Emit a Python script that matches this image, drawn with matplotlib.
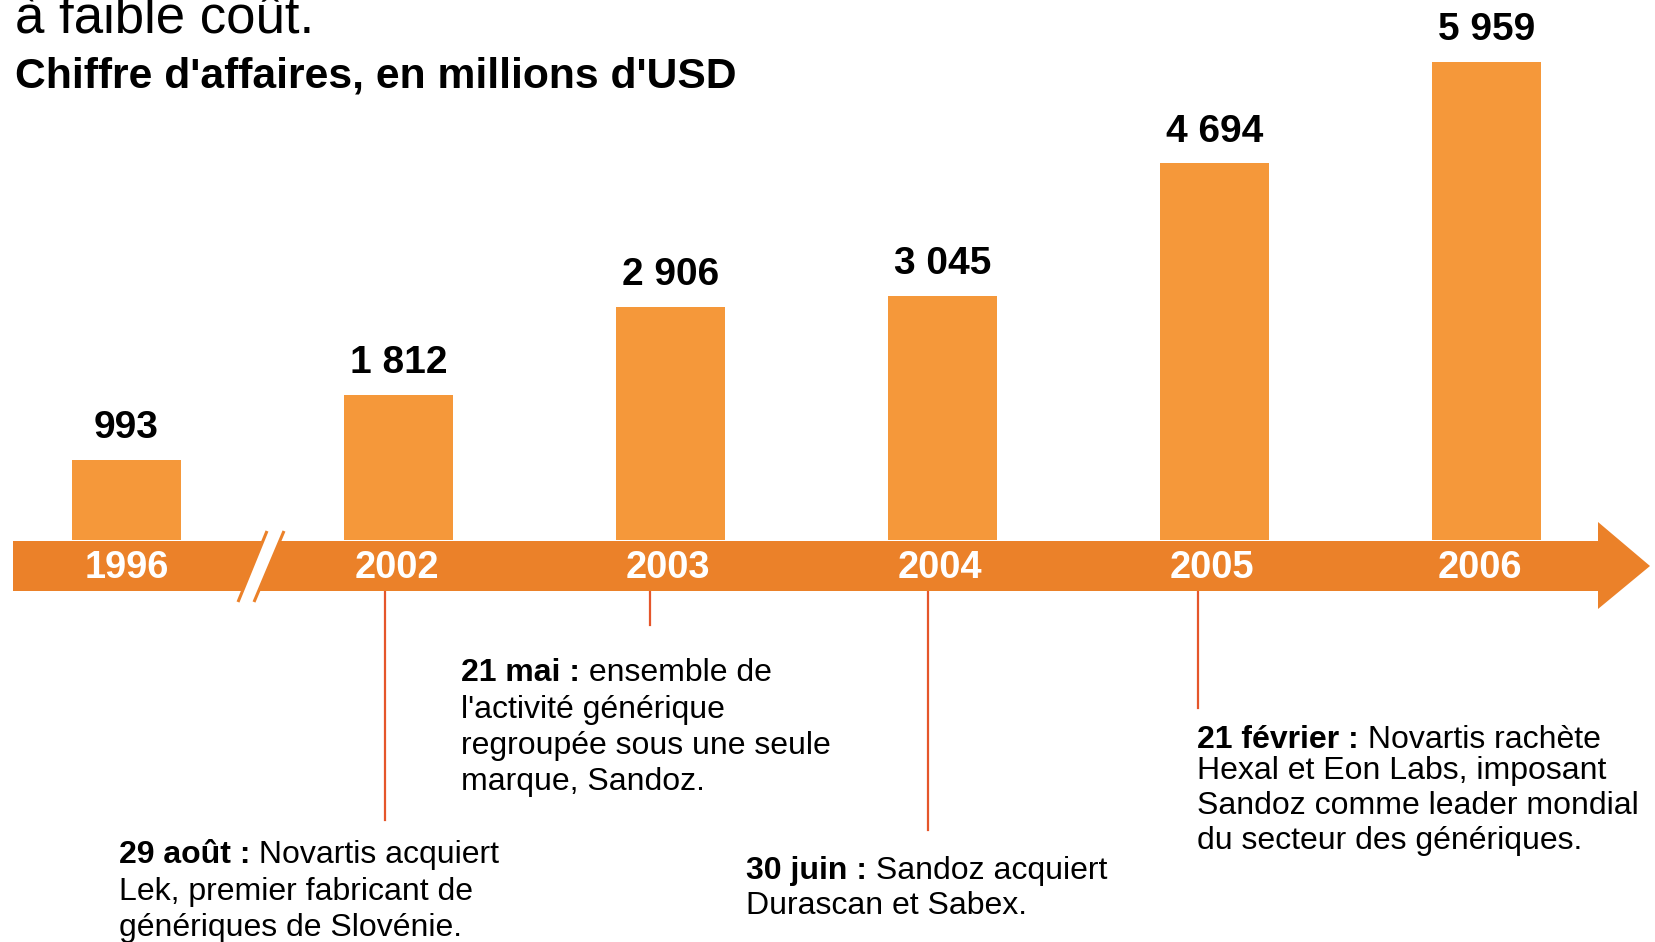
import matplotlib
matplotlib.use('Agg')
import matplotlib.pyplot as plt
from matplotlib.patches import Polygon
from matplotlib.lines import Line2D

# ---------------- data ----------------
years = ['1996', '2002', '2003', '2004', '2005', '2006']
revenue = [993, 1812, 2906, 3045, 4694, 5959]

title = "à faible coût."
subtitle = "Chiffre d'affaires, en millions d'USD"

event_dates = ['29 août :', '21 mai :', '30 juin :', '21 février :']
event_texts = [
    ['Novartis acquiert', 'Lek, premier fabricant de', 'génériques de Slovénie.'],
    ['ensemble de', "l'activité générique", 'regroupée sous une seule', 'marque, Sandoz.'],
    ['Sandoz acquiert', 'Durascan et Sabex.'],
    ['Novartis rachète', 'Hexal et Eon Labs, imposant',
     'Sandoz comme leader mondial', 'du secteur des génériques.'],
]

# ---------------- layout / style ----------------
W, H = 1656, 942
DPI = 100
FONT = ['Liberation Sans', 'DejaVu Sans']
BAR_C = '#F5983A'
BAND_C = '#EB8129'
LEAD_C = '#E5562B'

plt.rcParams['font.family'] = FONT

fig = plt.figure(figsize=(W / DPI, H / DPI), dpi=DPI)
ax = fig.add_axes([0, 0, 1, 1])
ax.set_axis_off()

# data <-> pixel mapping: bar i centred at 126.5 + 272*i px, baseline at 540 px from top
px_per_x = 272.0
x0_px = 126.5
base_px = 540.0
px_per_val = 478.0 / 5959.0
ax.set_xlim(-x0_px / px_per_x, (W - x0_px) / px_per_x)
ax.set_ylim(-(H - base_px) / px_per_val, base_px / px_per_val)


def P(x, y):
    """pixel (from top-left) -> axes fraction"""
    return (x / W, 1 - y / H)


# bars
xs = list(range(len(years)))
ax.bar(xs, revenue, width=109 / px_per_x, color=BAR_C, zorder=2)
for x, v in zip(xs, revenue):
    ax.annotate(f"{v:,}".replace(',', ' '), xy=(x, v), xytext=(0, 15.8),
                textcoords='offset points', ha='center', va='baseline',
                fontsize=28, fontweight='bold', color='black', zorder=5)

# arrow band
band = Polygon([P(13, 541), P(1598, 541), P(1598, 522), P(1650, 566),
                P(1598, 609), P(1598, 591), P(13, 591)],
               closed=True, transform=ax.transAxes, facecolor=BAND_C,
               edgecolor='none', zorder=3)
ax.add_patch(band)

# axis break
gap = Polygon([P(267, 531), P(284, 531), P(254, 602), P(238, 602)], closed=True,
              transform=ax.transAxes, facecolor='white', edgecolor='none', zorder=4)
ax.add_patch(gap)
for (xa, ya), (xb, yb) in [((267, 531), (238, 602)), ((284, 531), (254, 602))]:
    a, b = P(xa, ya), P(xb, yb)
    ax.add_line(Line2D([a[0], b[0]], [a[1], b[1]], transform=ax.transAxes,
                       color=BAND_C, lw=2.2, zorder=4, solid_capstyle='butt'))

# year labels
ytr = ax.get_xaxis_transform()
year_dx = [0, -1, -2, -2, -2, -5]
for x, yr, dx in zip(xs, years, year_dx):
    ax.annotate(yr, xy=(x, 1 - 578 / H), xycoords=ytr, xytext=(dx, 0),
                textcoords='offset points', ha='center', va='baseline',
                fontsize=27.4, fontweight='bold', color='white', zorder=6)

# titles
ax.text(*P(15, 33), title, transform=ax.transAxes, fontsize=38,
        ha='left', va='baseline', color='black')
ax.text(*P(15, 88), subtitle, transform=ax.transAxes, fontsize=30.7,
        fontweight='bold', ha='left', va='baseline', color='black')

# event leader lines and texts
lead_x = [385, 650, 928, 1198]
lead_bottom = [820, 625, 830, 708]
text_x = [119, 461, 746, 1197]
baselines = [[863, 900, 936], [681, 718, 754, 790], [879, 914], [748, 779, 814, 849]]
EV_FS = 23

for lx, lb in zip(lead_x, lead_bottom):
    a, b = P(lx, 591), P(lx, lb)
    ax.add_line(Line2D([a[0], b[0]], [a[1], b[1]], transform=ax.transAxes,
                       color=LEAD_C, lw=1.6, zorder=2))

for date, lines, tx, bls in zip(event_dates, event_texts, text_x, baselines):
    t = ax.text(*P(tx, bls[0]), date, transform=ax.transAxes, fontsize=EV_FS,
                fontweight='bold', ha='left', va='baseline', color='black')
    ax.annotate(' ' + lines[0], xy=(1, 0), xycoords=t, ha='left', va='bottom',
                fontsize=EV_FS, color='black')
    for ln, bl in zip(lines[1:], bls[1:]):
        ax.text(*P(tx, bl), ln, transform=ax.transAxes, fontsize=EV_FS,
                ha='left', va='baseline', color='black')

fig.savefig('out.png', dpi=DPI, facecolor='white')
